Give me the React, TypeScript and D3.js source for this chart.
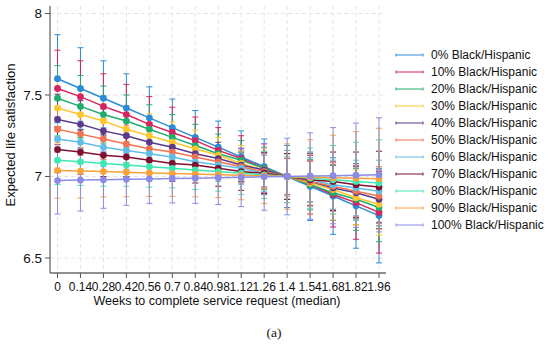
import { scaleLinear, line } from "d3";

const weeks = [0, 0.14, 0.28, 0.42, 0.56, 0.7, 0.84, 0.98, 1.12, 1.26, 1.4, 1.54, 1.68, 1.82, 1.96];
const weekLabels = ["0", "0.14", "0.28", "0.42", "0.56", "0.7", "0.84", "0.98", "1.12", "1.26", "1.4", "1.54", "1.68", "1.82", "1.96"];
const yTicks = [6.5, 7, 7.5, 8];

const groupNames = [
  "0% Black/Hispanic",
  "10% Black/Hispanic",
  "20% Black/Hispanic",
  "30% Black/Hispanic",
  "40% Black/Hispanic",
  "50% Black/Hispanic",
  "60% Black/Hispanic",
  "70% Black/Hispanic",
  "80% Black/Hispanic",
  "90% Black/Hispanic",
  "100% Black/Hispanic",
];

// predicted margins, one row per group
const means = [
  [7.6, 7.54, 7.48, 7.42, 7.36, 7.3, 7.24, 7.18, 7.12, 7.06, 7.0, 6.94, 6.88, 6.82, 6.76],
  [7.54, 7.49, 7.43, 7.38, 7.32, 7.27, 7.22, 7.16, 7.11, 7.05, 7.0, 6.95, 6.89, 6.84, 6.78],
  [7.48, 7.43, 7.38, 7.34, 7.29, 7.24, 7.19, 7.14, 7.1, 7.05, 7.0, 6.95, 6.9, 6.86, 6.81],
  [7.42, 7.38, 7.34, 7.29, 7.25, 7.21, 7.17, 7.13, 7.08, 7.04, 7.0, 6.96, 6.92, 6.87, 6.83],
  [7.35, 7.32, 7.28, 7.25, 7.21, 7.18, 7.14, 7.11, 7.07, 7.04, 7.0, 6.97, 6.93, 6.9, 6.86],
  [7.29, 7.26, 7.23, 7.2, 7.17, 7.15, 7.12, 7.09, 7.06, 7.03, 7.0, 6.97, 6.94, 6.91, 6.88],
  [7.23, 7.21, 7.18, 7.16, 7.14, 7.12, 7.09, 7.07, 7.05, 7.02, 7.0, 6.98, 6.95, 6.93, 6.91],
  [7.165, 7.15, 7.13, 7.12, 7.1, 7.08, 7.07, 7.05, 7.03, 7.02, 7.0, 6.98, 6.97, 6.95, 6.935],
  [7.1, 7.09, 7.08, 7.07, 7.06, 7.05, 7.04, 7.03, 7.02, 7.01, 7.0, 6.99, 6.98, 6.97, 6.96],
  [7.037, 7.033, 7.03, 7.026, 7.022, 7.018, 7.015, 7.011, 7.007, 7.004, 7.0, 6.996, 6.993, 6.99, 6.986],
  [6.975, 6.978, 6.98, 6.983, 6.985, 6.988, 6.99, 6.993, 6.995, 6.998, 7.0, 7.003, 7.005, 7.008, 7.01],
];

// half width of the 95% CI
const halfWidths = [
  [0.27, 0.25, 0.23, 0.21, 0.19, 0.175, 0.165, 0.16, 0.16, 0.17, 0.19, 0.21, 0.235, 0.26, 0.29],
  [0.235, 0.22, 0.2, 0.185, 0.17, 0.155, 0.145, 0.14, 0.14, 0.15, 0.16, 0.18, 0.2, 0.225, 0.25],
  [0.2, 0.19, 0.175, 0.16, 0.15, 0.14, 0.13, 0.12, 0.12, 0.13, 0.14, 0.155, 0.17, 0.19, 0.21],
  [0.175, 0.165, 0.155, 0.145, 0.135, 0.125, 0.115, 0.11, 0.11, 0.115, 0.12, 0.135, 0.15, 0.17, 0.19],
  [0.155, 0.145, 0.135, 0.125, 0.12, 0.11, 0.105, 0.1, 0.1, 0.105, 0.11, 0.125, 0.14, 0.16, 0.18],
  [0.14, 0.13, 0.125, 0.115, 0.11, 0.105, 0.1, 0.095, 0.095, 0.1, 0.11, 0.125, 0.145, 0.16, 0.18],
  [0.135, 0.13, 0.12, 0.115, 0.11, 0.105, 0.1, 0.1, 0.1, 0.11, 0.12, 0.135, 0.15, 0.17, 0.19],
  [0.14, 0.135, 0.13, 0.12, 0.115, 0.11, 0.11, 0.11, 0.115, 0.125, 0.14, 0.16, 0.18, 0.2, 0.22],
  [0.15, 0.145, 0.14, 0.13, 0.125, 0.12, 0.12, 0.12, 0.13, 0.145, 0.16, 0.185, 0.21, 0.24, 0.265],
  [0.17, 0.165, 0.155, 0.15, 0.145, 0.14, 0.14, 0.14, 0.15, 0.17, 0.2, 0.23, 0.26, 0.285, 0.31],
  [0.205, 0.19, 0.175, 0.16, 0.15, 0.15, 0.155, 0.165, 0.18, 0.205, 0.235, 0.265, 0.295, 0.32, 0.35],
];

const colors = [
  "#2a8bd6",
  "#d6245e",
  "#1fad6e",
  "#fcc72d",
  "#5b3a8c",
  "#f37350",
  "#60bde8",
  "#7f1030",
  "#3ee6b0",
  "#f9a23a",
  "#8b8be6",
];

const font = "'Liberation Sans', Arial, Helvetica, sans-serif";

const plotLeft = 50;
const plotRight = 386;
const plotTop = 6;
const plotBottom = 273;

const App = () => {
  const xScale = scaleLinear().domain([0, 1.96]).range([57.5, 379]);
  const yScale = scaleLinear().domain([6.5, 8]).range([258, 13.5]);

  const lineGen = line<number>()
    .x((_, i) => xScale(weeks[i]))
    .y((d) => yScale(d));

  const capHalf = 3;

  return (
    <svg
      width={550}
      height={345}
      style={{ position: "absolute", left: 0, top: 0, background: "#fff" }}
      fontFamily={font}
    >
      {/* grid */}
      {yTicks.map((t) => (
        <line
          key={"gy" + t}
          x1={plotLeft}
          x2={plotRight}
          y1={yScale(t)}
          y2={yScale(t)}
          stroke="#e4e4e4"
          strokeDasharray="4,3"
        />
      ))}
      {weeks.map((w) => (
        <line
          key={"gx" + w}
          x1={xScale(w)}
          x2={xScale(w)}
          y1={plotTop}
          y2={plotBottom}
          stroke="#e4e4e4"
          strokeDasharray="4,3"
        />
      ))}

      {/* confidence intervals */}
      {means.map((row, s) => (
        <g key={"ci" + s} stroke={colors[s]} strokeWidth={1}>
          {row.map((m, i) => {
            const x = xScale(weeks[i]);
            const hi = yScale(m + halfWidths[s][i]);
            const lo = yScale(m - halfWidths[s][i]);
            return (
              <g key={i}>
                <line x1={x} x2={x} y1={hi} y2={lo} />
                <line x1={x - capHalf} x2={x + capHalf} y1={hi} y2={hi} />
                <line x1={x - capHalf} x2={x + capHalf} y1={lo} y2={lo} />
              </g>
            );
          })}
        </g>
      ))}

      {/* lines and markers */}
      {means.map((row, s) => (
        <g key={"ln" + s}>
          <path d={lineGen(row) || ""} fill="none" stroke={colors[s]} strokeWidth={1.5} />
          {row.map((m, i) => (
            <circle key={i} cx={xScale(weeks[i])} cy={yScale(m)} r={3.4} fill={colors[s]} />
          ))}
        </g>
      ))}

      {/* axes */}
      <line x1={plotLeft} x2={plotLeft} y1={plotTop} y2={plotBottom} stroke="#6a6a6a" strokeWidth={1.3} />
      <line x1={plotLeft} x2={plotRight} y1={plotBottom} y2={plotBottom} stroke="#6a6a6a" strokeWidth={1.3} />
      {yTicks.map((t) => (
        <g key={"yt" + t} transform={`translate(0,${yScale(t)})`}>
          <line x1={plotLeft - 5} x2={plotLeft} stroke="#555" />
          <text x={plotLeft - 8} dy="0.35em" textAnchor="end" fontSize={13.5} fill="#111">
            {String(t)}
          </text>
        </g>
      ))}
      {weeks.map((w, i) => (
        <g key={"xt" + w} transform={`translate(${xScale(w)},0)`}>
          <line y1={plotBottom} y2={plotBottom + 5} stroke="#555" />
          <text y={291} textAnchor="middle" fontSize={12} fill="#111">
            {weekLabels[i]}
          </text>
        </g>
      ))}
      <text x={217} y={305} textAnchor="middle" fontSize={12.5} fill="#111">
        Weeks to complete service request (median)
      </text>
      <text
        transform={`translate(15,135) rotate(-90)`}
        textAnchor="middle"
        fontSize={13}
        fill="#111"
      >
        Expected life satisfaction
      </text>

      {/* legend */}
      {groupNames.map((name, s) => {
        const y = 55 + s * 17;
        return (
          <g key={"lg" + s} stroke={colors[s]}>
            <line x1={396} x2={423} y1={y} y2={y} strokeWidth={1} />
            <line x1={396} x2={396} y1={y - 1.5} y2={y + 1.5} />
            <line x1={423} x2={423} y1={y - 1.5} y2={y + 1.5} />
            <text x={431} y={y} dy="0.35em" fontSize={12} fill="#111" stroke="none">
              {name}
            </text>
          </g>
        );
      })}

      <text x={274} y={337} textAnchor="middle" fontSize={13.5} fontFamily="'Liberation Serif', 'Times New Roman', serif" fill="#111">
        (a)
      </text>
    </svg>
  );
};

export default App;
